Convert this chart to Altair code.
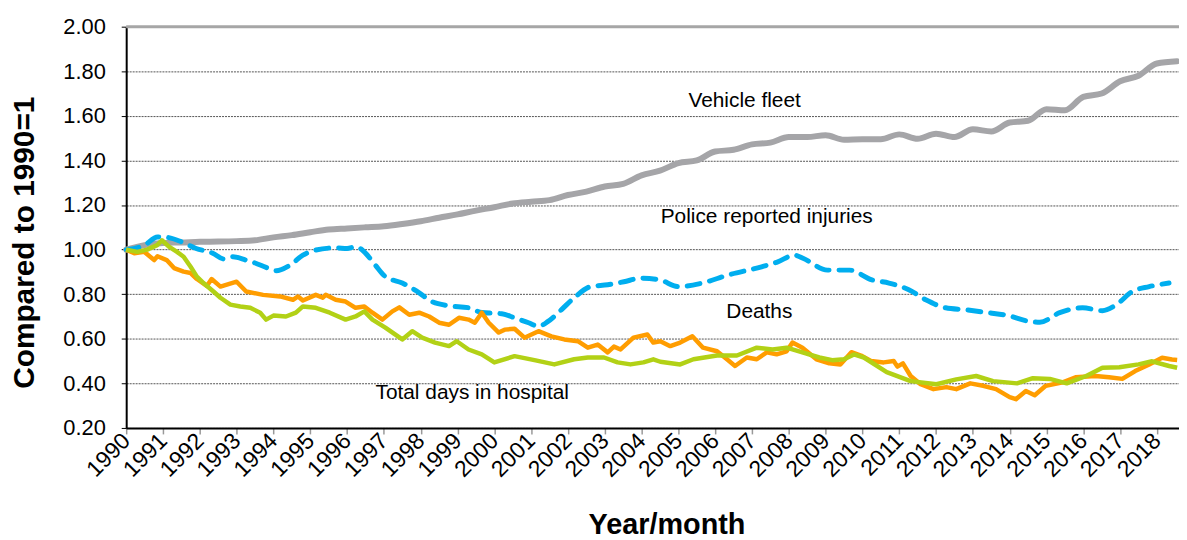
import altair as alt
import pandas as pd

years = list(range(1990, 2019))
y_ticks = [0.2, 0.4, 0.6, 0.8, 1.0, 1.2, 1.4, 1.6, 1.8, 2.0]

fleet_t = [1990.0, 1990.5, 1991.0, 1991.5, 1992.0, 1992.5, 1993.0, 1993.5, 1994.0, 1994.5,
           1995.0, 1995.5, 1996.0, 1996.5, 1997.0, 1997.5, 1998.0, 1998.5, 1999.0, 1999.5,
           2000.0, 2000.5, 2001.0, 2001.5, 2002.0, 2002.5, 2003.0, 2003.5, 2004.0, 2004.5,
           2005.0, 2005.5, 2006.0, 2006.5, 2007.0, 2007.5, 2008.0, 2008.5, 2009.0, 2009.5,
           2010.0, 2010.5, 2011.0, 2011.5, 2012.0, 2012.5, 2013.0, 2013.5, 2014.0, 2014.5,
           2015.0, 2015.5, 2016.0, 2016.5, 2017.0, 2017.5, 2018.0, 2018.55]
fleet_v = [1.00, 1.02, 1.03, 1.032, 1.035, 1.036, 1.038, 1.042, 1.055, 1.065,
           1.078, 1.09, 1.095, 1.10, 1.105, 1.115, 1.127, 1.143, 1.158, 1.175,
           1.19, 1.207, 1.215, 1.222, 1.245, 1.26, 1.283, 1.295, 1.333, 1.354,
           1.388, 1.40, 1.44, 1.448, 1.472, 1.48, 1.505, 1.505, 1.513, 1.493,
           1.495, 1.495, 1.517, 1.497, 1.52, 1.505, 1.54, 1.53, 1.57, 1.578,
           1.63, 1.625, 1.685, 1.70, 1.755, 1.78, 1.835, 1.845]

police_t = [1990.0, 1990.5, 1990.85, 1991.1, 1991.5, 1991.9, 1992.35, 1992.65, 1992.9, 1993.25,
            1993.5, 1993.8, 1994.07, 1994.45, 1994.8, 1995.15, 1995.7, 1996.0, 1996.25, 1996.5,
            1996.77, 1997.04, 1997.5, 1997.96, 1998.3, 1998.77, 1999.3, 1999.66, 2000.2, 2000.55,
            2000.93, 2001.2, 2001.46, 2001.82, 2002.17, 2002.62, 2003.08, 2003.52, 2004.0, 2004.5,
            2005.0, 2005.65, 2006.35, 2007.26, 2007.7, 2008.15, 2008.4, 2009.05, 2009.65, 2010.26,
            2010.72, 2011.26, 2011.72, 2012.26, 2012.8, 2013.42, 2013.96, 2014.47, 2014.82, 2015.36,
            2015.98, 2016.52, 2016.9, 2017.33, 2017.79, 2018.33]
police_v = [1.00, 1.02, 1.057, 1.055, 1.035, 1.005, 0.984, 0.958, 0.968, 0.953,
            0.94, 0.92, 0.905, 0.93, 0.975, 0.998, 1.008, 1.005, 1.013, 0.984,
            0.93, 0.879, 0.85, 0.806, 0.767, 0.748, 0.739, 0.718, 0.712, 0.694,
            0.672, 0.656, 0.678, 0.73, 0.784, 0.834, 0.842, 0.856, 0.872, 0.864,
            0.834, 0.85, 0.886, 0.923, 0.945, 0.975, 0.96, 0.908, 0.908, 0.864,
            0.85, 0.82, 0.775, 0.739, 0.73, 0.717, 0.704, 0.68, 0.674, 0.717,
            0.739, 0.726, 0.753, 0.812, 0.834, 0.85]

deaths_t = [1990.0, 1990.22, 1990.49, 1990.76, 1990.85, 1991.1, 1991.3, 1991.56, 1991.75, 1991.92,
            1992.19, 1992.32, 1992.56, 1993.0, 1993.26, 1993.72, 1994.18, 1994.53, 1994.67, 1994.8,
            1995.15, 1995.34, 1995.42, 1995.69, 1995.96, 1996.23, 1996.47, 1996.69, 1996.96, 1997.23,
            1997.42, 1997.69, 1997.96, 1998.23, 1998.5, 1998.77, 1999.04, 1999.3, 1999.47, 1999.66,
            1999.85, 2000.12, 2000.28, 2000.55, 2000.82, 2001.2, 2001.55, 2001.9, 2002.27, 2002.54,
            2002.81, 2003.08, 2003.25, 2003.43, 2003.78, 2004.16, 2004.32, 2004.51, 2004.78, 2005.05,
            2005.38, 2005.67, 2006.05, 2006.32, 2006.54, 2006.86, 2007.13, 2007.4, 2007.67, 2007.94,
            2008.1, 2008.37, 2008.75, 2009.1, 2009.4, 2009.7, 2009.96, 2010.23, 2010.58, 2010.85,
            2010.95, 2011.1, 2011.31, 2011.58, 2011.93, 2012.28, 2012.55, 2012.93, 2013.28, 2013.63,
            2014.0, 2014.17, 2014.44, 2014.68, 2014.98, 2015.44, 2015.79, 2016.33, 2016.7, 2017.06,
            2017.41, 2017.79, 2018.14, 2018.41, 2018.55]
deaths_v = [1.00, 0.984, 0.99, 0.953, 0.97, 0.953, 0.917, 0.901, 0.895, 0.868,
            0.837, 0.868, 0.834, 0.856, 0.812, 0.797, 0.79, 0.775, 0.79, 0.772,
            0.797, 0.784, 0.797, 0.775, 0.767, 0.739, 0.745, 0.717, 0.686, 0.723,
            0.741, 0.708, 0.717, 0.70, 0.672, 0.663, 0.694, 0.686, 0.672, 0.717,
            0.672, 0.628, 0.641, 0.645, 0.605, 0.634, 0.611, 0.597, 0.589, 0.56,
            0.574, 0.539, 0.565, 0.552, 0.605, 0.619, 0.583, 0.589, 0.567, 0.583,
            0.611, 0.56, 0.544, 0.508, 0.478, 0.516, 0.508, 0.539, 0.53, 0.544,
            0.583, 0.56, 0.508, 0.49, 0.485, 0.54, 0.525, 0.50, 0.494, 0.50,
            0.475, 0.49, 0.433, 0.396, 0.374, 0.383, 0.374, 0.40, 0.389, 0.374,
            0.338, 0.329, 0.366, 0.347, 0.389, 0.405, 0.427, 0.433, 0.427, 0.42,
            0.455, 0.485, 0.515, 0.507, 0.505]

hosp_t = [1990.0, 1990.3, 1990.57, 1990.84, 1990.97, 1991.16, 1991.38, 1991.56, 1991.75, 1991.92,
          1992.1, 1992.37, 1992.56, 1992.83, 1993.1, 1993.37, 1993.64, 1993.8, 1994.0, 1994.34,
          1994.61, 1994.8, 1995.15, 1995.53, 1995.96, 1996.23, 1996.47, 1996.69, 1997.04, 1997.5,
          1997.77, 1998.04, 1998.39, 1998.77, 1998.98, 1999.3, 1999.66, 2000.0, 2000.55, 2001.09,
          2001.63, 2002.17, 2002.54, 2002.98, 2003.35, 2003.7, 2004.05, 2004.32, 2004.51, 2005.05,
          2005.41, 2006.05, 2006.59, 2007.13, 2007.56, 2007.94, 2008.37, 2008.83, 2009.18, 2009.5,
          2009.77, 2010.04, 2010.66, 2011.31, 2012.01, 2012.55, 2013.09, 2013.55, 2014.2, 2014.63,
          2015.09, 2015.55, 2016.08, 2016.52, 2016.98, 2017.5, 2017.87, 2018.33, 2018.55]
hosp_v = [1.00, 0.99, 1.00, 1.02, 1.042, 1.013, 0.99, 0.968, 0.923, 0.879,
          0.85, 0.812, 0.784, 0.753, 0.745, 0.739, 0.717, 0.686, 0.704, 0.70,
          0.717, 0.745, 0.739, 0.717, 0.686, 0.70, 0.723, 0.686, 0.65, 0.597,
          0.634, 0.605, 0.583, 0.567, 0.589, 0.552, 0.53, 0.494, 0.522, 0.504,
          0.485, 0.508, 0.516, 0.516, 0.494, 0.485, 0.494, 0.508, 0.497, 0.485,
          0.508, 0.525, 0.525, 0.56, 0.552, 0.56, 0.539, 0.516, 0.504, 0.508,
          0.53, 0.516, 0.45, 0.41, 0.396, 0.418, 0.433, 0.41, 0.40, 0.423,
          0.42, 0.40, 0.433, 0.47, 0.472, 0.485, 0.499, 0.478, 0.47]

label_text = ["Vehicle fleet", "Police reported injuries", "Deaths", "Total days in hospital"]
label_t = [2006.8, 2007.4, 2007.2, 1999.4]
label_v = [1.666, 1.145, 0.721, 0.356]

FONT = "Liberation Sans"

x_enc = alt.X(
    "t:Q",
    scale=alt.Scale(domain=[1990, 2018.6], nice=False, zero=False),
    axis=alt.Axis(
        values=years, format="d", labelAngle=-45, labelAlign="right",
        labelBaseline="middle", labelFontSize=23, labelColor="black",
        labelFont=FONT, labelPadding=3, labelOverlap=False, labelFlush=False,
        tickColor="#999999", tickSize=6, tickWidth=1.5,
        domainColor="black", domainWidth=2, grid=False,
        title="Year/month", titleFont=FONT, titleFontSize=29,
        titleFontWeight="bold", titleColor="black",
        titleX=544, titleY=106, titleBaseline="alphabetic",
    ),
)
y_enc = alt.Y(
    "v:Q",
    scale=alt.Scale(domain=[0.2, 2.0], nice=False, zero=False),
    axis=alt.Axis(
        values=y_ticks, format=".2f", labelFontSize=22, labelColor="black",
        labelFont=FONT, labelPadding=16, tickColor="black", tickSize=5,
        domainColor="black", domainWidth=2,
        grid=True, gridColor="#555555", gridDash=[2, 1], gridWidth=1,
        title="Compared to 1990=1", titleFont=FONT, titleFontSize=30,
        titleFontWeight="bold", titleColor="black",
        titleX=-93, titleY=217, titleBaseline="alphabetic",
    ),
)


def frame(ts, vs):
    return pd.DataFrame({"t": ts, "v": vs})


top_rule = alt.Chart(pd.DataFrame({"v": [2.0]})).mark_rule(
    color="#A6A6A6", strokeWidth=3
).encode(y=alt.Y("v:Q"))

fleet = alt.Chart(frame(fleet_t, fleet_v)).mark_line(
    color="#A5A5A8", strokeWidth=6, strokeCap="round", strokeJoin="round",
    interpolate="monotone"
).encode(x=x_enc, y=y_enc)

police = alt.Chart(frame(police_t, police_v)).mark_line(
    color="#00AEEF", strokeWidth=5, strokeDash=[13, 10], strokeCap="round",
    strokeJoin="round", interpolate="monotone"
).encode(x=x_enc, y=y_enc)

deaths = alt.Chart(frame(deaths_t, deaths_v)).mark_line(
    color="#FF9D00", strokeWidth=4.5, strokeJoin="round"
).encode(x=x_enc, y=y_enc)

hosp = alt.Chart(frame(hosp_t, hosp_v)).mark_line(
    color="#B2D116", strokeWidth=4.5, strokeJoin="round"
).encode(x=x_enc, y=y_enc)

labels = alt.Chart(pd.DataFrame({"t": label_t, "v": label_v, "txt": label_text})).mark_text(
    font=FONT, fontSize=21, color="black", align="center", baseline="middle"
).encode(x=x_enc, y=y_enc, text="txt:N")

chart = alt.layer(top_rule, fleet, police, deaths, hosp, labels).properties(
    width=1060, height=404,
    autosize=alt.AutoSizeParams(type="none"),
    padding={"left": 119, "top": 17, "right": 0, "bottom": 110},
).configure_view(stroke=None).configure(background="white")

chart.save("out.html", embed_options={"renderer": "svg", "actions": False})
